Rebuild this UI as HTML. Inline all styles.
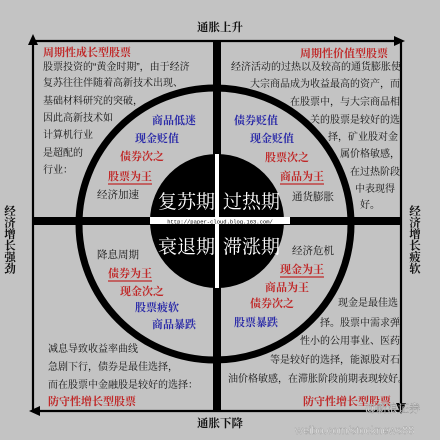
<!DOCTYPE html>
<html><head><meta charset="utf-8"><style>
html,body{margin:0;padding:0;background:#c3c3c3;}
svg{display:block;font-family:"Liberation Sans","Noto Serif CJK SC","Noto Sans CJK SC",serif;}
</style></head><body>
<svg width="440" height="440" viewBox="0 0 440 440">
<rect width="440" height="440" fill="#c3c3c3"/>
<g stroke="#000" stroke-width="2.2" fill="none">
<line x1="33" y1="44" x2="33" y2="411"/>
<line x1="33" y1="41" x2="398" y2="41"/>
<line x1="401" y1="41" x2="401" y2="406"/>
<line x1="38" y1="411" x2="401" y2="411"/>
</g>
<polygon points="33,34 28,45 38,45" fill="#000"/>
<polygon points="405,41 394,36 394,46" fill="#000"/>
<polygon points="401,414 396,403 406,403" fill="#000"/>
<polygon points="29,411 40,406 40,416" fill="#000"/>
<rect x="213" y="41" width="8" height="370" fill="#000"/>
<rect x="33" y="217" width="368" height="8" fill="#000"/>
<circle cx="215" cy="224" r="136" fill="none" stroke="#000" stroke-width="7"/>
<circle cx="217" cy="221" r="67" fill="#000"/>
<rect x="215" y="154" width="4" height="134" fill="#fff"/>
<rect x="150" y="217" width="140" height="7" fill="#fff"/>
<text x="220" y="223.5" font-size="5.5" fill="#000" text-anchor="middle" font-family="Liberation Mono,monospace">http://paper-cloud.blog.163.com/</text>
<g fill="#fff" font-size="19">
<text x="158" y="208">复苏期</text><text x="223" y="208">过热期</text>
<text x="158" y="253">衰退期</text><text x="223" y="253">滞涨期</text>
</g>
<g font-size="11.5" font-weight="bold" fill="#111">
<text x="220" y="31" text-anchor="middle">通胀上升</text>
<text x="220" y="427" text-anchor="middle">通胀下降</text>
<text x="9" y="205" writing-mode="tb">经济增长强劲</text>
<text x="414" y="205" writing-mode="tb">经济增长疲软</text>
</g>
<g font-size="10" fill="#111">
<text x="43" y="70">股票投资的“黄金时期”，由于经济</text>
<text x="43" y="86">复苏往往伴随着高新技术出现、</text>
<text x="43" y="104">基础材料研究的突破，</text>
<text x="43" y="121">因此高新技术如</text>
<text x="43" y="138">计算机行业</text>
<text x="43" y="156">是超配的</text>
<text x="43" y="173">行业：</text>
<text x="231" y="70">经济活动的过热以及较高的通货膨胀使</text>
<text x="250" y="87">大宗商品成为收益最高的资产，而</text>
<text x="290" y="105">在股票中，与大宗商品相</text>
<text x="310" y="123">关的股票是较好的选</text>
<text x="328" y="140">择，矿业股对金</text>
<text x="340" y="157">属价格敏感，</text>
<text x="350" y="175">在过热阶段</text>
<text x="355" y="192">中表现得</text>
<text x="360" y="208">好。</text>
<text x="48" y="352">减息导致收益率曲线</text>
<text x="48" y="370">急剧下行，债券是最佳选择，</text>
<text x="48" y="388">而在股票中金融股是较好的选择：</text>
<text x="338" y="306">现金是最佳选</text>
<text x="320" y="326">择。股票中需求弹</text>
<text x="300" y="344">性小的公用事业、医药</text>
<text x="270" y="363">等是较好的选择，能源股对石</text>
<text x="228" y="382">油价格敏感，在滞胀阶段前期表现较好。</text>
<text x="97" y="198" font-size="10.5">经济加速</text>
<text x="292" y="200" font-size="10.5">通货膨胀</text>
<text x="97" y="258" font-size="10.5">降息周期</text>
<text x="292" y="254" font-size="10.5">经济危机</text>
</g>
<g font-size="11" font-weight="bold">
<g fill="#c02828">
<text x="43" y="56">周期性成长型股票</text>
<text x="300" y="57">周期性价值型股票</text>
<text x="48" y="405">防守性增长型股票</text>
<text x="303" y="405">防守性增长型股票</text>
<text x="120" y="160">债券次之</text>
<text x="108" y="180">股票为王</text>
<text x="265" y="161">股票次之</text>
<text x="280" y="180">商品为王</text>
<text x="108" y="277">债券为王</text>
<text x="120" y="295">现金次之</text>
<text x="280" y="273">现金为王</text>
<text x="265" y="291">商品为王</text>
<text x="250" y="307">债券次之</text>
</g>
<g fill="#2a2aa8">
<text x="152" y="124">商品低迷</text>
<text x="135" y="142">现金贬值</text>
<text x="234" y="124">债券贬值</text>
<text x="250" y="142">现金贬值</text>
<text x="135" y="311">股票疲软</text>
<text x="152" y="328">商品暴跌</text>
<text x="234" y="326">股票暴跌</text>
</g>
</g>
<g stroke="#c02828" stroke-width="1.2">
<line x1="108" y1="184" x2="152" y2="184"/>
<line x1="280" y1="184" x2="324" y2="184"/>
<line x1="108" y1="281" x2="152" y2="281"/>
<line x1="280" y1="277" x2="324" y2="277"/>
</g>
<g font-size="11" fill="#fff" stroke="#999" stroke-width="0.4">
<text x="365" y="412">@新浪证券</text>
<text x="295" y="434">weibo.com/stocknews88</text>
</g>
</svg>
</body></html>
